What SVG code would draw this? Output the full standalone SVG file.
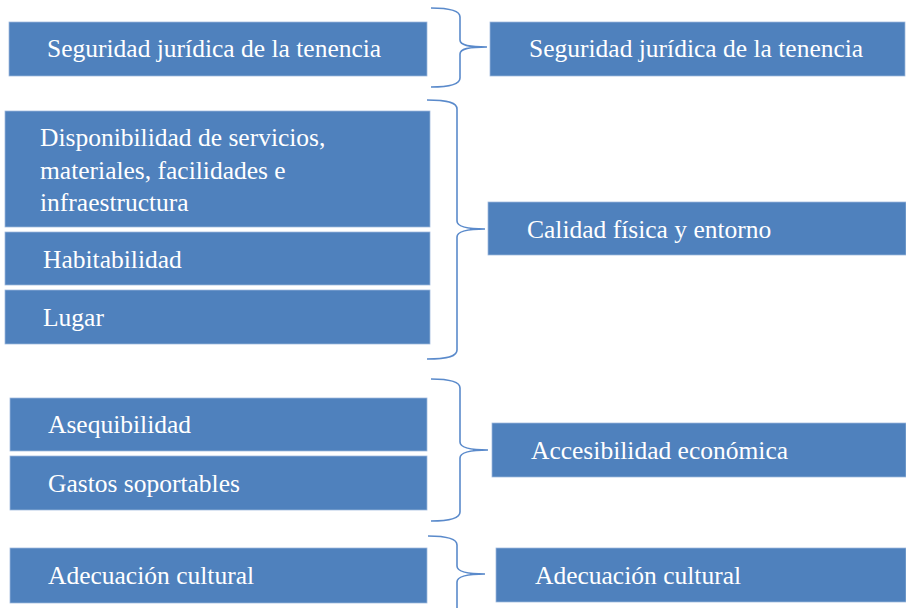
<svg xmlns="http://www.w3.org/2000/svg" width="906" height="608" viewBox="0 0 906 608">
<style>
.box{fill:#4F81BD;stroke:#9DB8DD;stroke-width:0.75}
.t{font-family:'Liberation Serif','Times New Roman','DejaVu Serif',serif;font-size:25.5px;fill:#ffffff}
.brace{fill:none;stroke:#5A8ACB;stroke-width:1.6}
</style>
<rect width="906" height="608" fill="#ffffff"/>
<g id="connectors">
<path class="brace" d="M431,8 C452,8 460,11 460,17 L460,40 C460,45 468,47 487,47 C468,47 460,49 460,54 L460,78 C460,84 452,87 431,87"/>
<path class="brace" d="M427,100 C449,100 457,103 457,109 L457,221 C457,226 465,229 485,229 C465,229 457,232 457,237 L457,350 C457,356 449,359 427,359"/>
<path class="brace" d="M431,379 C452,379 460,382 460,388 L460,442 C460,447 468,450 488,450 C468,450 460,453 460,458 L460,512 C460,518 452,521 431,521"/>
<path class="brace" d="M428,536 C449,536 457,539 457,545 L457,566 C457,571 465,574 485,574 C465,574 457,577 457,582 L457,612"/>
</g>
<g font-family="Liberation Serif, serif">
<g id="n1l"><rect class="box" x="9" y="22" width="418" height="54"/><text class="t" x="47" y="57">Seguridad jurídica de la tenencia</text></g>
<g id="n1r"><rect class="box" x="490" y="22" width="415" height="54"/><text class="t" x="529" y="57">Seguridad jurídica de la tenencia</text></g>
<g id="n2a"><rect class="box" x="5" y="111" width="425" height="116"/><text class="t" x="40" y="146">Disponibilidad de servicios,</text><text class="t" x="40" y="179">materiales, facilidades e</text><text class="t" x="40" y="211">infraestructura</text></g>
<g id="n2b"><rect class="box" x="5" y="232" width="425" height="53"/><text class="t" x="43" y="268">Habitabilidad</text></g>
<g id="n2c"><rect class="box" x="5" y="290" width="425" height="54"/><text class="t" x="43" y="326">Lugar</text></g>
<g id="n2r"><rect class="box" x="488" y="202" width="418" height="53"/><text class="t" x="527" y="238">Calidad física y entorno</text></g>
<g id="n3a"><rect class="box" x="10" y="398" width="417" height="53"/><text class="t" x="48" y="433">Asequibilidad</text></g>
<g id="n3b"><rect class="box" x="10" y="456" width="417" height="54"/><text class="t" x="48" y="492">Gastos soportables</text></g>
<g id="n3r"><rect class="box" x="492" y="423" width="414" height="54"/><text class="t" x="531" y="459">Accesibilidad económica</text></g>
<g id="n4l"><rect class="box" x="10" y="548" width="417" height="55"/><text class="t" x="48" y="584">Adecuación cultural</text></g>
<g id="n4r"><rect class="box" x="496" y="548" width="410" height="54"/><text class="t" x="535" y="584">Adecuación cultural</text></g>
</g>
</svg>
